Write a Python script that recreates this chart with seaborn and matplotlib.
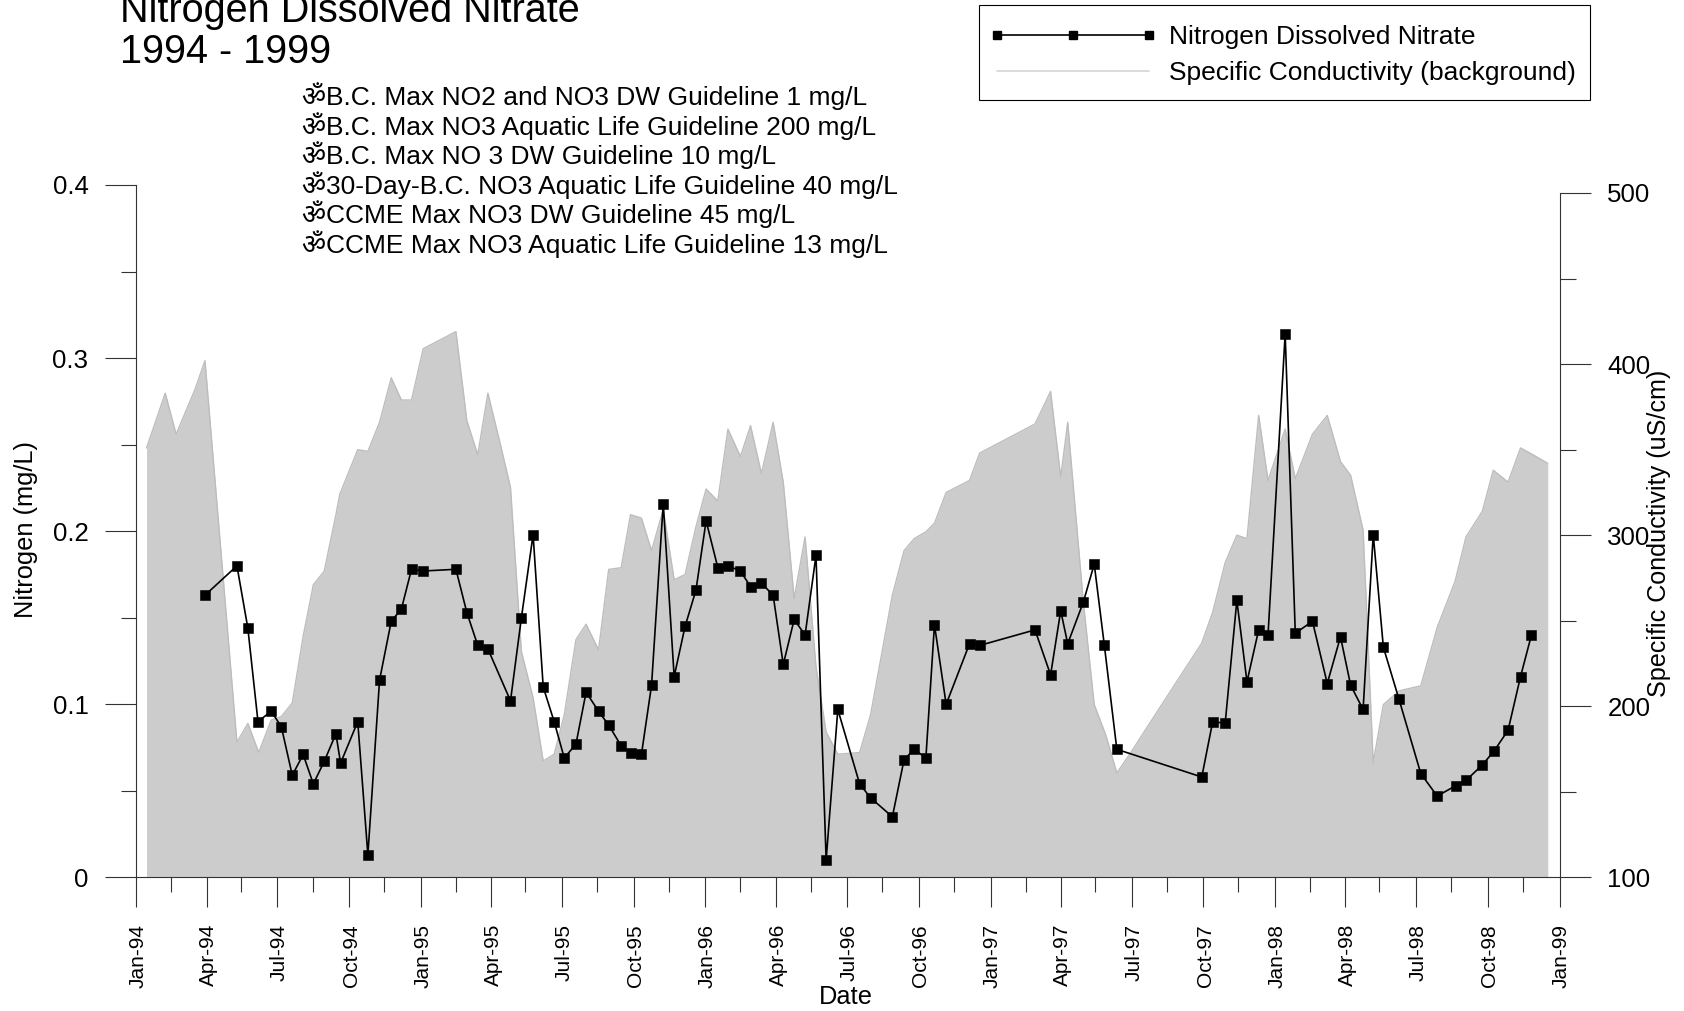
import matplotlib
matplotlib.use("Agg")
import matplotlib.pyplot as plt
import matplotlib.dates as mdates
from matplotlib.legend_handler import HandlerLine2D
from matplotlib.patches import Rectangle
from matplotlib.transforms import ScaledTranslation
import pandas as pd
import seaborn as sns

W, H = 1684, 1011
sns.set_style("ticks")
plt.rcParams['font.family'] = ['Liberation Sans', 'Noto Sans', 'DejaVu Sans']
plt.rcParams['text.color'] = 'black'

title_lines = ["Nitrogen Dissolved Nitrate", "1994 - 1999"]
guidelines = [
    "\u0950B.C. Max NO2 and NO3 DW Guideline 1 mg/L",
    "\u0950B.C. Max NO3 Aquatic Life Guideline 200 mg/L",
    "\u0950B.C. Max NO 3 DW Guideline 10 mg/L",
    "\u095030-Day-B.C. NO3 Aquatic Life Guideline 40 mg/L",
    "\u0950CCME Max NO3 DW Guideline 45 mg/L",
    "\u0950CCME Max NO3 Aquatic Life Guideline 13 mg/L",
]
series_n = "Nitrogen Dissolved Nitrate"
series_c = "Specific Conductivity (background)"

# days after 1994-01-01
n_days = [88, 129, 143, 156, 173, 186, 200, 214, 227, 241, 256, 262, 284, 297, 312, 327, 340, 353, 368, 410,
          424, 438, 451, 480, 494, 509, 522, 536, 549, 564, 577, 593, 606, 622, 634, 648, 661, 676, 690, 704,
          718, 731, 746, 759, 775, 788, 802, 817, 830, 844, 858, 872, 885, 900, 928, 942, 970, 985, 998, 1013,
          1024, 1039, 1069, 1082, 1153, 1173, 1186, 1195, 1215, 1229, 1242, 1258, 1367, 1381, 1397, 1412, 1425,
          1440, 1452, 1474, 1487, 1509, 1528, 1545, 1558, 1574, 1587, 1600, 1620, 1648, 1669, 1693, 1706, 1727,
          1742, 1760, 1776, 1790]
n_vals = [0.163, 0.180, 0.144, 0.090, 0.096, 0.087, 0.059, 0.071, 0.054, 0.067, 0.083, 0.066, 0.090, 0.013,
          0.114, 0.148, 0.155, 0.178, 0.177, 0.178, 0.153, 0.134, 0.132, 0.102, 0.150, 0.198, 0.110, 0.090,
          0.069, 0.077, 0.107, 0.096, 0.088, 0.076, 0.072, 0.071, 0.111, 0.216, 0.116, 0.145, 0.166, 0.206,
          0.179, 0.180, 0.177, 0.168, 0.170, 0.163, 0.123, 0.149, 0.140, 0.186, 0.010, 0.097, 0.054, 0.046,
          0.035, 0.068, 0.074, 0.069, 0.146, 0.100, 0.135, 0.134, 0.143, 0.117, 0.154, 0.135, 0.159, 0.181,
          0.134, 0.074, 0.058, 0.090, 0.089, 0.160, 0.113, 0.143, 0.140, 0.314, 0.141, 0.148, 0.112, 0.139,
          0.111, 0.097, 0.198, 0.133, 0.103, 0.060, 0.047, 0.053, 0.056, 0.065, 0.073, 0.085, 0.116, 0.140]

c_days = [13, 37, 51, 75, 88, 129, 143, 157, 173, 186, 200, 214, 227, 241, 256, 261, 284, 297, 312, 327, 340,
          353, 368, 410, 424, 438, 451, 466, 480, 494, 509, 522, 536, 549, 564, 577, 593, 606, 622, 634, 648,
          661, 676, 690, 704, 718, 731, 746, 759, 775, 788, 802, 817, 830, 844, 858, 872, 885, 900, 928, 942,
          970, 985, 998, 1013, 1024, 1039, 1069, 1082, 1153, 1173, 1186, 1195, 1215, 1229, 1244, 1258, 1276,
          1300, 1367, 1381, 1397, 1412, 1425, 1440, 1452, 1474, 1487, 1509, 1528, 1545, 1558, 1574, 1587, 1600,
          1620, 1648, 1669, 1692, 1706, 1727, 1741, 1760, 1776, 1792, 1811]
c_vals = [351, 383, 359, 385, 402, 179, 190, 173, 192, 194, 202, 241, 271, 279, 312, 324, 350, 349, 366, 392,
          379, 379, 409, 419, 367, 347, 383, 355, 328, 232, 205, 168, 172, 195, 239, 248, 233, 280, 281, 312,
          310, 291, 315, 274, 277, 305, 327, 320, 362, 346, 364, 336, 366, 331, 263, 299, 223, 185, 172, 173,
          195, 265, 291, 298, 302, 307, 325, 332, 348, 365, 384, 334, 366, 261, 201, 183, 161, 173, 190, 237,
          255, 284, 300, 298, 370, 332, 362, 333, 359, 370, 343, 335, 303, 167, 201, 209, 212, 246, 273, 299,
          314, 338, 331, 351, 347, 342]

start = pd.Timestamp("1994-01-01")
nitrate = pd.DataFrame({"date": start + pd.to_timedelta(n_days, unit="D"), "value": n_vals})
cond = pd.DataFrame({"date": start + pd.to_timedelta(c_days, unit="D"), "value": c_vals})

fig = plt.figure(figsize=(W / 100, H / 100), dpi=100, facecolor="white")
L, R, T, B = 136.4, 1559.5, 185.0, 877.4
ax = fig.add_axes([L / W, 1 - B / H, (R - L) / W, (B - T) / H])
ax2 = ax.twinx()
ax.set_zorder(ax2.get_zorder() + 1)
ax.patch.set_visible(False)

C_BOTTOM = 100
ax2.fill_between(cond["date"], cond["value"], C_BOTTOM, color="#CCCCCC", lw=0)
sns.lineplot(data=cond, x="date", y="value", ax=ax2, color="#BDBDBD", lw=1.0, estimator=None,
             legend=False)
sns.lineplot(data=nitrate, x="date", y="value", ax=ax, color="black", lw=1.2, marker="s",
             markersize=6.7, markeredgecolor="black", markeredgewidth=0.4, estimator=None, legend=False)

ax.set_xlim(pd.Timestamp("1994-01-01"), pd.Timestamp("1999-01-01"))
ax.set_ylim(0, 0.4)
ax2.set_ylim(100, 100 + (B - T) / 171.1 * 100)

ax.xaxis.set_major_locator(mdates.MonthLocator(bymonth=(1, 4, 7, 10)))
ax.xaxis.set_major_formatter(mdates.DateFormatter("%b-%y"))
ax.xaxis.set_minor_locator(mdates.MonthLocator(bymonth=(2, 5, 8, 11), bymonthday=15))
ax.set_yticks([0, 0.1, 0.2, 0.3, 0.4])
ax.set_yticklabels(["0", "0.1", "0.2", "0.3", "0.4"])
ax.set_yticks([0.05, 0.15, 0.25, 0.35], minor=True)
ax2.set_yticks([100, 200, 300, 400, 500])
ax2.set_yticks([150, 250, 350, 450], minor=True)

edge = "#333333"
ax.tick_params(axis="x", which="major", direction="out", length=21.6, width=0.8, color=edge, pad=12,
               labelsize=15, labelrotation=90, labelcolor="black")
ax.tick_params(axis="x", which="minor", direction="out", length=10.8, width=0.8, color=edge)
ax.tick_params(axis="y", which="major", direction="out", length=22.3, width=0.8, color=edge, pad=12.2,
               labelsize=18.6, labelcolor="black")
ax.tick_params(axis="y", which="minor", direction="out", length=11, width=0.8, color=edge)
ax2.tick_params(axis="y", which="major", direction="out", length=22.3, width=0.8, color=edge, pad=12.2,
                labelsize=18.6, labelcolor="black")
ax2.tick_params(axis="y", which="minor", direction="out", length=11.3, width=0.8, color=edge)

shift = ScaledTranslation(2 / 100, 0, fig.dpi_scale_trans)
for lab in ax.get_xticklabels():
    lab.set_transform(lab.get_transform() + shift)

for a in (ax, ax2):
    a.spines["top"].set_visible(False)
    a.set_xlabel("")
    a.set_ylabel("")
ax.spines["right"].set_visible(False)
ax2.spines["left"].set_visible(False)
ax2.spines["bottom"].set_visible(False)
ax.spines["left"].set_bounds(0, 0.4)
ax2.spines["right"].set_bounds(100, 500)
for s in (ax.spines["left"], ax.spines["bottom"], ax2.spines["right"]):
    s.set_color(edge)
    s.set_linewidth(0.8)


def px_text(x, y, s, **kw):
    fig.text(x / W, 1 - y / H, s, **kw)


px_text(120, 21.7, title_lines[0], fontsize=28.5, va="baseline", ha="left")
px_text(120, 63.3, title_lines[1], fontsize=28.5, va="baseline", ha="left")
for i, line in enumerate(guidelines):
    px_text(301.5, 105 + i * 29.6, line, fontsize=19.0, va="baseline", ha="left")

px_text(25.8, 529, "Nitrogen (mg/L)", fontsize=18.3, rotation=90, va="center", ha="center")
px_text(1659, 533, "Specific Conductivity (uS/cm)", fontsize=18.1, rotation=90, va="center", ha="center")
px_text(846, 997, "Date", fontsize=18.3, va="center", ha="center")

h1 = plt.Line2D([], [], color="black", lw=1.2, marker="s", markersize=5.7, markeredgecolor="black")
h2 = plt.Line2D([], [], color="#D4D4D4", lw=1.2)
fig.add_artist(Rectangle((979 / W, 1 - 100 / H), 610.5 / W, 94.7 / H, transform=fig.transFigure,
                         facecolor="white", edgecolor="black", linewidth=0.8))
fig.legend([h1, h2], [series_n, series_c], loc="upper left",
           bbox_to_anchor=(979 / W, 1 - 7.4 / H), bbox_transform=fig.transFigure,
           fontsize=19.0, frameon=False, borderpad=0.68, borderaxespad=0,
           handlelength=5.75, handletextpad=0.76, labelspacing=0.46, numpoints=3,
           handler_map={h1: HandlerLine2D(marker_pad=0, numpoints=3), h2: HandlerLine2D(marker_pad=0)})

fig.savefig("out.png", dpi=100, facecolor="white")
